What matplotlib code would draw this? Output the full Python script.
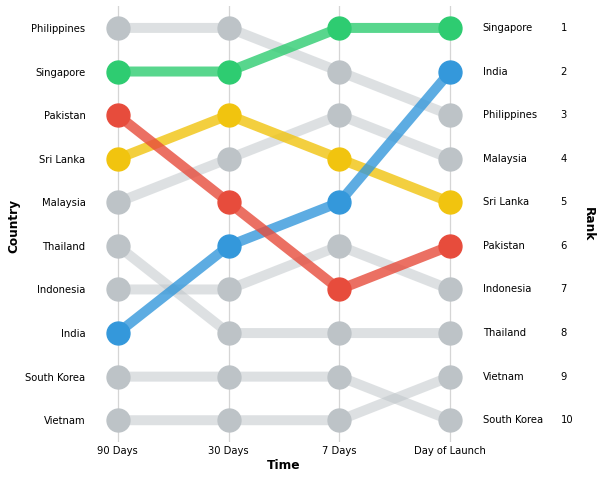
import matplotlib
matplotlib.use("Agg")
import matplotlib.pyplot as plt
import matplotlib.transforms as mtransforms

times = ["90 Days", "30 Days", "7 Days", "Day of Launch"]
countries = ["Philippines", "Singapore", "Pakistan", "Sri Lanka", "Malaysia",
             "Thailand", "Indonesia", "India", "South Korea", "Vietnam"]
# rank of each country at each time point
ranks = {
    "Philippines": [1, 1, 2, 3],
    "Singapore":   [2, 2, 1, 1],
    "Pakistan":    [3, 5, 7, 6],
    "Sri Lanka":   [4, 3, 4, 5],
    "Malaysia":    [5, 4, 3, 4],
    "Thailand":    [6, 8, 8, 8],
    "Indonesia":   [7, 7, 6, 7],
    "India":       [8, 6, 5, 2],
    "South Korea": [9, 9, 9, 10],
    "Vietnam":     [10, 10, 10, 9],
}
highlight = {"Singapore": "#2ecc71", "Sri Lanka": "#f1c40f",
             "India": "#3498db", "Pakistan": "#e74c3c"}
grey = "#bdc3c7"
draw_order = ["Philippines", "Malaysia", "Thailand", "Indonesia", "South Korea",
              "Vietnam", "Singapore", "Sri Lanka", "India", "Pakistan"]

fig = plt.figure(figsize=(6, 4.79), dpi=100)
ax = fig.add_axes([0.15, 0.0772, 0.6467, 0.910])

x = list(range(len(times)))
for i, c in enumerate(draw_order):
    col = highlight.get(c, grey)
    a = 0.8 if c in highlight else 0.5
    ax.plot(x, ranks[c], color=col, alpha=a, lw=7.2, zorder=2 + i * 0.01,
            solid_capstyle="butt")
for i, c in enumerate(draw_order):
    col = highlight.get(c, grey)
    ax.plot(x, ranks[c], linestyle="none", marker="o", ms=16.5,
            color=col, zorder=4 + i * 0.01)

ax.set_xlim(-0.25, 3.25)
ax.set_ylim(10.5, 0.5)
ax.set_xticks(x)
ax.set_xticklabels(times, fontsize=7.2)
start = sorted(countries, key=lambda c: ranks[c][0])
ax.set_yticks([ranks[c][0] for c in start])
ax.set_yticklabels(start, fontsize=7.2)
ax.tick_params(length=0, pad=3.2)
ax.grid(axis="x", color="#d5d5d5", lw=0.9, zorder=0)
ax.set_axisbelow(True)
for s in ax.spines.values():
    s.set_visible(False)

trans = mtransforms.blended_transform_factory(ax.transAxes, ax.transData)
end = sorted(countries, key=lambda c: ranks[c][-1])
for c in end:
    r = ranks[c][-1]
    ax.text(1.012, r, c, transform=trans, fontsize=7.2, va="center", ha="left")
    ax.text(1.213, r, str(r), transform=trans, fontsize=7.2, va="center", ha="left")

ax.set_xlabel("Time", fontsize=8.8, fontweight="bold", labelpad=2)
fig.text(0.023, 0.528, "Country",
         rotation=90, fontsize=8.7, fontweight="bold", va="center", ha="center")
fig.text(0.98, 0.532, "Rank", rotation=270, fontsize=8.7, fontweight="bold",
         va="center", ha="center")

fig.savefig("out.png", dpi=100)
